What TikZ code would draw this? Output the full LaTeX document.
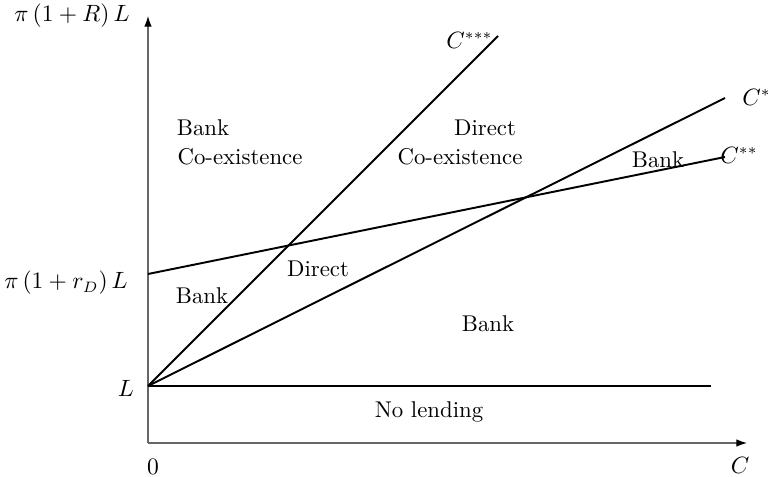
\documentclass[tikz,border=0pt]{standalone}
\usetikzlibrary{arrows.meta}
\begin{document}
\begin{tikzpicture}[x=0.465pt,y=-0.465pt,
  axis/.style={draw=black!60,line width=0.5pt,-{Latex[length=5pt,width=3.5pt,color=black]}},
  curve/.style={draw=black,line width=0.9pt},
  lbl/.style={inner sep=0pt,font=\fontsize{10.6}{12}\selectfont}]
\useasboundingbox (0,0) rectangle (768,477);
\coordinate (O) at (148,443);
\coordinate (Ytop) at (148,16);
\coordinate (Xend) at (747,443);
\coordinate (Lpt) at (148,386);
\coordinate (Lend) at (711,386);
\coordinate (rD) at (148,274);
\coordinate (Css) at (725,157);
\coordinate (Cs) at (725,98);
\coordinate (Csss) at (498,36);
\draw[axis] (O) -- (Ytop);
\draw[axis] (O) -- (Xend);
\draw[curve] (Lpt) -- (Lend);
\draw[curve] (rD) -- (Css);
\draw[curve] (Lpt) -- (Cs);
\draw[curve] (Lpt) -- (Csss);
\node[lbl] (ya) at (72,16) {$\pi\,(1+R)\,L$};
\node[lbl] (yb) at (66,283) {$\pi\,(1+r_D)\,L$};
\node[lbl] (yl) at (126,388) {$L$};
\node[lbl] (x0) at (153,467) {$0$};
\node[lbl] (xc) at (740,465) {$C$};
\node[lbl,anchor=west] (lcs) at (742,97) {$C^{*}$};
\node[lbl,anchor=west] (lcss) at (720,155) {$C^{**}$};
\node[lbl,anchor=west] (lcsss) at (446,40) {$C^{***}$};
\node[lbl] (t1) at (203,128) {Bank};
\node[lbl] (t2) at (240,157) {Co-existence};
\node[lbl] (t3) at (485,128) {Direct};
\node[lbl] (t4) at (460,157) {Co-existence};
\node[lbl] (t5) at (658,160) {Bank};
\node[lbl] (t6) at (318,269) {Direct};
\node[lbl] (t7) at (202,296) {Bank};
\node[lbl] (t8) at (488,324) {Bank};
\node[lbl] (t9) at (429,412) {No lending};
\end{tikzpicture}
\end{document}
